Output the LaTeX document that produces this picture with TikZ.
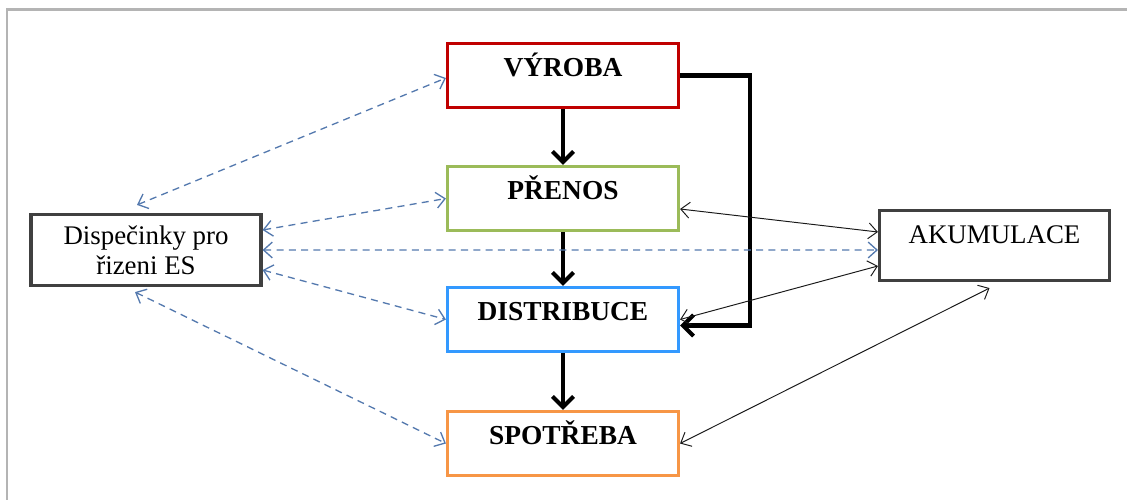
\documentclass[tikz,border=0pt]{standalone}
\usepackage{fontspec}
\setmainfont{Liberation Serif}
\usetikzlibrary{arrows.meta}
\definecolor{vyrobared}{HTML}{C00000}
\definecolor{prenosgreen}{HTML}{9BBB59}
\definecolor{distblue}{HTML}{3399FF}
\definecolor{spotorange}{HTML}{F79646}
\definecolor{boxgray}{HTML}{404040}
\definecolor{ctrlblue}{HTML}{5479AE}
\definecolor{framegray}{HTML}{B4B4B4}
\tikzset{
	sector/.style={draw, line width=1.8pt, minimum width=4.62cm, inner ysep=0pt,
		text height=0.66cm, text depth=0.62cm, font=\fontsize{15.6}{18}\selectfont\bfseries},
	sidebox/.style={draw=boxgray, line width=1.8pt, minimum width=4.6cm, align=center,
		font=\fontsize{15.3}{17}\selectfont},
	flow/.style={line width=2.3pt, -{Straight Barb[length=6pt, width=12pt]}},
	link/.style={line width=0.55pt, color=black!90, {Straight Barb[length=5pt, width=9pt]}-{Straight Barb[length=5pt, width=9pt]}},
	ctrl/.style={line width=0.75pt, color=ctrlblue, dash pattern=on 4pt off 3pt,
		{Straight Barb[length=5pt, width=9pt]}-{Straight Barb[length=5pt, width=9pt]}}
}
\begin{document}
\begin{tikzpicture}[x=0.02cm, y=-0.02cm]
	\useasboundingbox (0,0) rectangle (1127,500);
	\draw[framegray, line width=1.2pt] (7,500) -- (7,9.5) -- (1127,9.5);
	% sectors of the energy system
	\node[sector, draw=vyrobared] (vyroba) at (563,75.5) {VÝROBA};
	\node[sector, draw=prenosgreen] (prenos) at (563,198.5) {PŘENOS};
	\node[sector, draw=distblue] (distribuce) at (563,319.5) {DISTRIBUCE};
	\node[sector, draw=spotorange] (spotreba) at (563,443.5) {SPOTŘEBA};
	\node[sidebox, minimum height=1.42cm] (dispecink) at (146,250) {Dispečinky pro\\řizeni ES};
	\node[sidebox, minimum height=1.4cm, inner ysep=0pt, text height=0.64cm, text depth=0.74cm] (akumulace) at (994.5,245.5) {AKUMULACE};
	% main flow
	\draw[flow] (vyroba) -- (prenos);
	\draw[flow] (prenos) -- (distribuce);
	\draw[flow] (distribuce) -- (spotreba);
	\draw[flow] (vyroba.east) -- ++(70,0) |- ([yshift=-0.12cm]distribuce.east);
	% accumulation
	\draw[link] ([yshift=-0.21cm]prenos.east) -- ([yshift=0.27cm]akumulace.west);
	\draw[link] (distribuce.east) -- ([yshift=-0.41cm]akumulace.west);
	\draw[link] (spotreba.east) -- ([xshift=-0.1cm, yshift=-0.12cm]akumulace.south);
	% control
	\draw[ctrl] ([xshift=-0.18cm, yshift=0.16cm]dispecink.north) -- ([yshift=-0.05cm]vyroba.west);
	\draw[ctrl] ([yshift=0.4cm]dispecink.east) -- (prenos.west);
	\draw[ctrl] (dispecink.east) -- ([yshift=-0.09cm]akumulace.west);
	\draw[ctrl] ([yshift=-0.4cm]dispecink.east) -- (distribuce.west);
	\draw[ctrl] ([xshift=-0.22cm, yshift=-0.1cm]dispecink.south) -- (spotreba.west);
\end{tikzpicture}
\end{document}
